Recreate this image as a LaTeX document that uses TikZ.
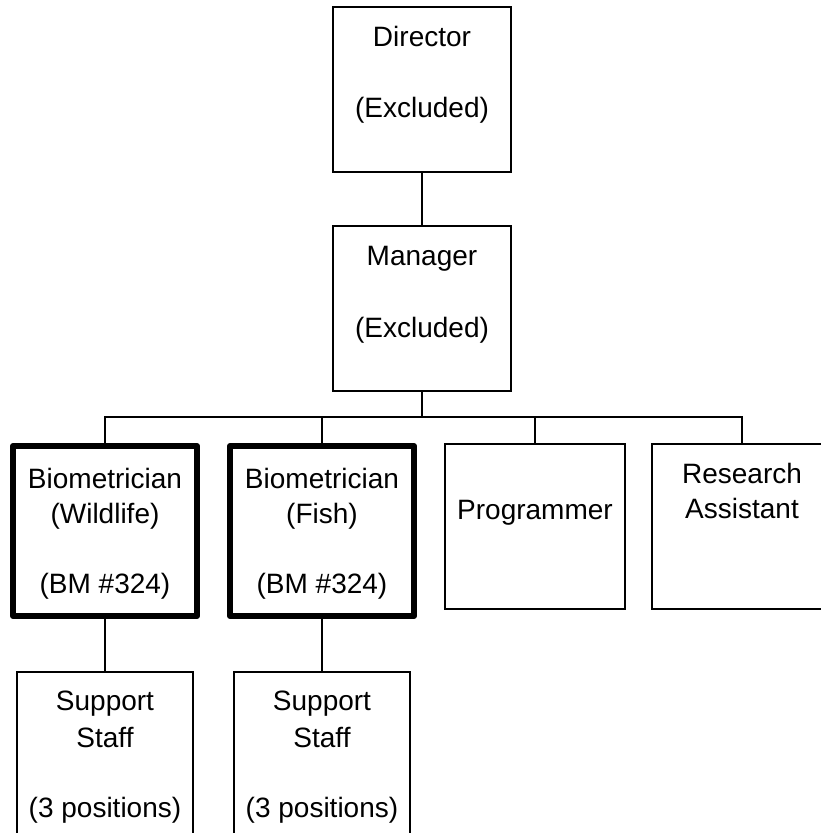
\documentclass[tikz,border=0pt]{standalone}
\usepackage{fontspec}
\setmainfont{Liberation Sans}
\begin{document}
\begin{tikzpicture}[x=0.75pt,y=-0.75pt,
  box/.style={draw=black, line width=1.5pt, inner sep=0pt, outer sep=0pt},
  bigbox/.style={box, minimum width=178*0.75pt, minimum height=165*0.75pt},
  midbox/.style={box, minimum width=180*0.75pt, minimum height=165*0.75pt},
  boldbox/.style={box, line width=4.5pt, line join=round, minimum width=184*0.75pt, minimum height=170*0.75pt},
  staffbox/.style={box, minimum width=176*0.75pt, minimum height=165*0.75pt},
  txt/.style={anchor=base, inner sep=0pt, font=\fontsize{21}{26}\selectfont},
  conn/.style={draw=black, line width=1.5pt}]
\useasboundingbox (0,0) rectangle (821,833);
\clip (0,0) rectangle (821,833);
% boxes
\node[bigbox] (dir) at (422,89.5) {};
\node[bigbox] (man) at (422,308.5) {};
\node[boldbox] (bw) at (105,531) {};
\node[boldbox] (bf) at (322,531) {};
\node[midbox] (pr) at (535,526.5) {};
\node[midbox] (ra) at (742,526.5) {};
\node[staffbox] (sw) at (105,754.5) {};
\node[staffbox] (sf) at (322,754.5) {};
% texts
\node[txt] (dirA) at (422,46) {Director};
\node[txt] (dirB) at (422,117) {(Excluded)};
\node[txt] (manA) at (422,265) {Manager};
\node[txt] (manB) at (422,337) {(Excluded)};
\node[txt] (bwA) at (105,488) {Biometrician};
\node[txt] (bwB) at (105,523) {(Wildlife)};
\node[txt] (bwC) at (105,593) {(BM \#324)};
\node[txt] (bfA) at (322,488) {Biometrician};
\node[txt] (bfB) at (322,523) {(Fish)};
\node[txt] (bfC) at (322,593) {(BM \#324)};
\node[txt] (prA) at (535,519) {Programmer};
\node[txt] (raA) at (742,483) {Research};
\node[txt] (raB) at (742,518) {Assistant};
\node[txt] (swA) at (105,710) {Support};
\node[txt] (swB) at (105,747) {Staff};
\node[txt] (swC) at (105,817) {(3 positions)};
\node[txt] (sfA) at (322,710) {Support};
\node[txt] (sfB) at (322,747) {Staff};
\node[txt] (sfC) at (322,817) {(3 positions)};
% connectors
\coordinate (bus) at (422,417);
\draw[conn] (dir.south) -- (man.north);
\draw[conn] (man.south) -- (bus);
\draw[conn] (bw.north) |- (bus) -| (ra.north);
\draw[conn] (bf.north) -- (bf.north |- bus);
\draw[conn] (pr.north) -- (pr.north |- bus);
\draw[conn] (bw.south) -- (sw.north);
\draw[conn] (bf.south) -- (sf.north);
\end{tikzpicture}
\end{document}
